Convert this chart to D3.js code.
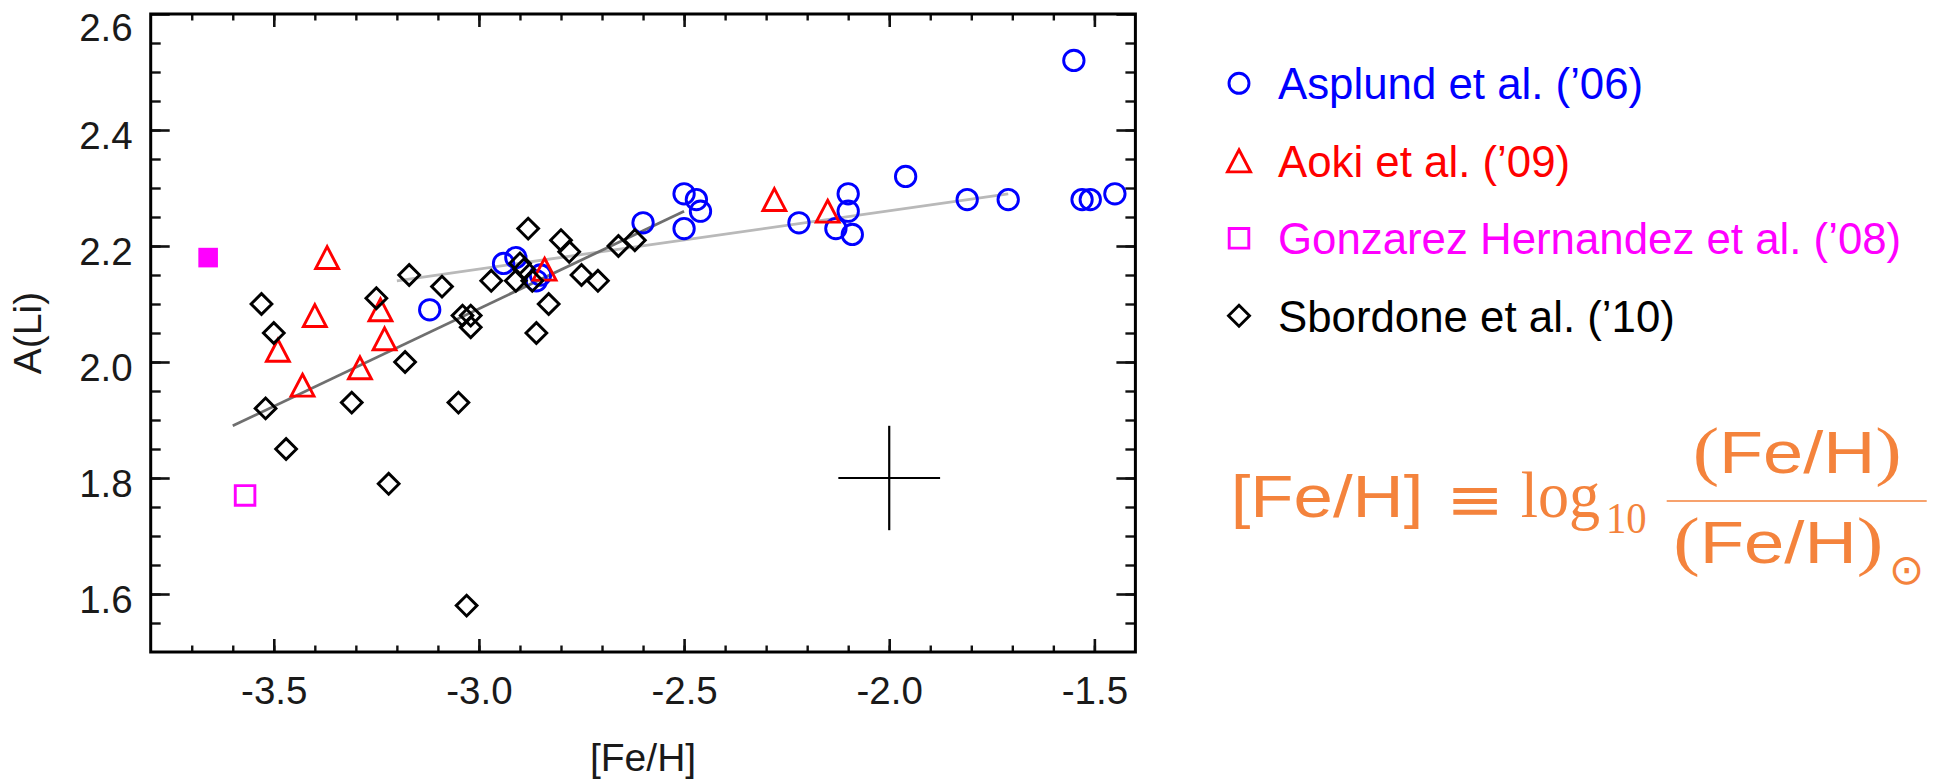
<!DOCTYPE html>
<html>
<head>
<meta charset="utf-8">
<script src="https://cdn.jsdelivr.net/npm/d3@7"></script>
<style>
  body { margin: 0; background: #ffffff; }
  svg { display: block; }
</style>
</head>
<body>
<svg id="chart" width="1944" height="779"></svg>
<script>
// ---- Lithium plateau data: A(Li) versus [Fe/H] ----

// Asplund et al. ('06)
const asplundFeH = [-3.12, -2.94, -2.91, -2.86, -2.85, -2.60, -2.50, -2.47, -2.46, -2.50, -2.22,
                    -2.10, -2.10, -2.13, -2.09, -1.96, -1.81, -1.71, -1.55, -1.53, -1.51, -1.45];
const asplundALi = [2.09, 2.17, 2.18, 2.14, 2.15, 2.24, 2.29, 2.28, 2.26, 2.23, 2.24,
                    2.29, 2.26, 2.23, 2.22, 2.32, 2.28, 2.28, 2.52, 2.28, 2.28, 2.29];

// Aoki et al. ('09)
const aokiFeH = [-3.37, -3.40, -3.49, -3.43, -3.29, -3.24, -3.23, -2.84, -2.28, -2.15];
const aokiALi = [2.18, 2.08, 2.02, 1.96, 1.99, 2.09, 2.04, 2.16, 2.28, 2.26];

// Gonzarez Hernandez et al. ('08): open and filled values
const gonzalezFeH = [-3.57];
const gonzalezALi = [1.77];
const gonzalezFilledFeH = [-3.66];
const gonzalezFilledALi = [2.18];

// Sbordone et al. ('10)
const sbordoneFeH = [-3.53, -3.50, -3.52, -3.47, -3.31, -3.25, -3.17, -3.18, -3.22, -3.09,
                     -3.05, -3.04, -3.02, -3.02, -3.03, -2.97, -2.88, -2.90, -2.91, -2.89,
                     -2.87, -2.86, -2.83, -2.80, -2.78, -2.75, -2.71, -2.66, -2.62];
const sbordoneALi = [2.10, 2.05, 1.92, 1.85, 1.93, 2.11, 2.15, 2.00, 1.79, 2.13,
                     1.93, 2.08, 2.08, 2.06, 1.58, 2.14, 2.23, 2.17, 2.14, 2.16,
                     2.14, 2.05, 2.10, 2.21, 2.19, 2.15, 2.14, 2.20, 2.21];

// Trend lines
const steepFitFeH = [-3.60, -2.50];
const steepFitALi = [1.89, 2.26];
const flatFitFeH = [-3.20, -1.71];
const flatFitALi = [2.14, 2.29];

// Typical error bar
const errCenterFeH = [-2.0];
const errCenterALi = [1.8];
const errHalfFeH = [0.124];
const errHalfALi = [0.09];

// Axes
const xMajorTicks = [-3.5, -3.0, -2.5, -2.0, -1.5];
const xTickLabels = ["-3.5", "-3.0", "-2.5", "-2.0", "-1.5"];
const yMajorTicks = [1.6, 1.8, 2.0, 2.2, 2.4, 2.6];
const yTickLabels = ["1.6", "1.8", "2.0", "2.2", "2.4", "2.6"];

// Legend
const legendLabels = ["Asplund et al. (\u201906)", "Aoki et al. (\u201909)",
                      "Gonzarez Hernandez et al. (\u201908)", "Sbordone et al. (\u201910)"];
const legendColors = ["#0000ff", "#ff0000", "#ff00ff", "#000000"];
const legendShapes = ["circle", "triangle", "square", "diamond"];

// ---- Drawing ----
const svg = d3.select("#chart");
const plotLeft = 150.7, plotRight = 1135.4, plotTop = 14, plotBottom = 652;

const x = d3.scaleLinear().domain([-3.8, -1.4]).range([plotLeft, plotRight]);
const y = d3.scaleLinear().domain([1.5, 2.6]).range([plotBottom, plotTop]);

const axisFont = "'Liberation Sans', Arial, Helvetica, sans-serif";
const tickColor = "#111";

const xMinor = d3.range(-3.7, -1.41, 0.1).map(v => +v.toFixed(2));
const yMinor = d3.range(1.55, 2.6, 0.05).map(v => +v.toFixed(2));

function styleAxis(g, w) {
  g.select(".domain").remove();
  g.selectAll(".tick line").attr("stroke", tickColor).attr("stroke-width", w);
}

// bottom axis: minor and major ticks, labels
svg.append("g").attr("transform", `translate(0,${plotBottom})`)
  .call(d3.axisBottom(x).tickValues(xMinor).tickSize(-6.5).tickFormat(""))
  .call(g => styleAxis(g, 2.4));
const xAxisMajor = svg.append("g").attr("transform", `translate(0,${plotBottom})`)
  .call(d3.axisBottom(x).tickValues(xMajorTicks).tickSize(-13).tickPadding(24.5)
        .tickFormat((d, i) => xTickLabels[i]))
  .call(g => styleAxis(g, 2.6));
xAxisMajor.selectAll("text").attr("font-family", axisFont).attr("font-size", 38.5)
  .attr("fill", "#1a1a1a");

// top axis (ticks only)
svg.append("g").attr("transform", `translate(0,${plotTop})`)
  .call(d3.axisTop(x).tickValues(xMinor).tickSize(-6.5).tickFormat(""))
  .call(g => styleAxis(g, 2.4));
svg.append("g").attr("transform", `translate(0,${plotTop})`)
  .call(d3.axisTop(x).tickValues(xMajorTicks).tickSize(-13).tickFormat(""))
  .call(g => styleAxis(g, 2.6));

// left axis
svg.append("g").attr("transform", `translate(${plotLeft},0)`)
  .call(d3.axisLeft(y).tickValues(yMinor).tickSize(-10).tickFormat(""))
  .call(g => styleAxis(g, 2.4));
const yAxisMajor = svg.append("g").attr("transform", `translate(${plotLeft},0)`)
  .call(d3.axisLeft(y).tickValues(yMajorTicks).tickSize(-19).tickPadding(18)
        .tickFormat((d, i) => yTickLabels[i]))
  .call(g => styleAxis(g, 2.6));
yAxisMajor.selectAll("text").attr("font-family", axisFont).attr("font-size", 38.5)
  .attr("fill", "#1a1a1a")
  .attr("dy", d => d === 2.6 ? "0.69em" : "0.47em");

// right axis (ticks only)
svg.append("g").attr("transform", `translate(${plotRight},0)`)
  .call(d3.axisRight(y).tickValues(yMinor).tickSize(-10).tickFormat(""))
  .call(g => styleAxis(g, 2.4));
svg.append("g").attr("transform", `translate(${plotRight},0)`)
  .call(d3.axisRight(y).tickValues(yMajorTicks).tickSize(-19).tickFormat(""))
  .call(g => styleAxis(g, 2.6));

// frame
svg.append("rect")
  .attr("x", plotLeft).attr("y", plotTop)
  .attr("width", plotRight - plotLeft).attr("height", plotBottom - plotTop)
  .attr("fill", "none").attr("stroke", "#000").attr("stroke-width", 3);

// axis titles
svg.append("text")
  .attr("x", (plotLeft + plotRight) / 2).attr("y", 771)
  .attr("text-anchor", "middle")
  .attr("font-family", axisFont).attr("font-size", 39).attr("fill", "#1a1a1a")
  .text("[Fe/H]");
svg.append("text")
  .attr("transform", `translate(41,${(plotTop + plotBottom) / 2}) rotate(-90)`)
  .attr("text-anchor", "middle")
  .attr("font-family", axisFont).attr("font-size", 39).attr("fill", "#1a1a1a")
  .text("A(Li)");

// trend lines
const line = d3.line().x(d => x(d[0])).y(d => y(d[1]));
svg.append("path")
  .datum(flatFitFeH.map((v, i) => [v, flatFitALi[i]]))
  .attr("d", line).attr("fill", "none")
  .attr("stroke", "#b9b9b9").attr("stroke-width", 2.8);
svg.append("path")
  .datum(steepFitFeH.map((v, i) => [v, steepFitALi[i]]))
  .attr("d", line).attr("fill", "none")
  .attr("stroke", "#6f6f6f").attr("stroke-width", 2.8);

// marker shapes
const markerPath = {
  triangle: s => `M0,${-s * 1.05}L${s * 1.1},${s * 1.05}L${-s * 1.1},${s * 1.05}Z`,
  square: s => `M${-s},${-s}H${s}V${s}H${-s}Z`,
  diamond: s => `M0,${-s}L${s},0L0,${s}L${-s},0Z`
};

function drawMarkers(feh, ali, shape, color, filled) {
  const pts = feh.map((v, i) => [v, ali[i]]);
  const g = svg.append("g");
  if (shape === "circle") {
    g.selectAll("circle").data(pts).join("circle")
      .attr("cx", d => x(d[0])).attr("cy", d => y(d[1])).attr("r", 10.2)
      .attr("fill", filled ? color : "none")
      .attr("stroke", color).attr("stroke-width", 2.9);
  } else {
    g.selectAll("path").data(pts).join("path")
      .attr("transform", d => `translate(${x(d[0])},${y(d[1])})`)
      .attr("d", markerPath[shape](shape === "square" ? 9.8 : 10.4))
      .attr("fill", filled ? color : "none")
      .attr("stroke", filled ? "none" : color)
      .attr("stroke-width", 2.9)
      .attr("stroke-linejoin", "miter");
  }
}

drawMarkers(asplundFeH, asplundALi, "circle", legendColors[0], false);
drawMarkers(aokiFeH, aokiALi, "triangle", legendColors[1], false);
drawMarkers(sbordoneFeH, sbordoneALi, "diamond", legendColors[3], false);
drawMarkers(gonzalezFeH, gonzalezALi, "square", legendColors[2], false);
drawMarkers(gonzalezFilledFeH, gonzalezFilledALi, "square", legendColors[2], true);

// error cross
const errG = svg.append("g").attr("stroke", "#000").attr("stroke-width", 2.2);
errCenterFeH.forEach((v, i) => {
  errG.append("line")
    .attr("x1", x(v - errHalfFeH[i])).attr("x2", x(v + errHalfFeH[i]))
    .attr("y1", y(errCenterALi[i])).attr("y2", y(errCenterALi[i]));
  errG.append("line")
    .attr("x1", x(v)).attr("x2", x(v))
    .attr("y1", y(errCenterALi[i] - errHalfALi[i])).attr("y2", y(errCenterALi[i] + errHalfALi[i]));
});

// legend
const legend = svg.append("g");
const legendX = 1239, legendTextX = 1278, legendY0 = 99.3, legendStep = 77.5;
legendLabels.forEach((label, i) => {
  const by = legendY0 + i * legendStep;
  const my = by - 16;
  const color = legendColors[i];
  if (legendShapes[i] === "circle") {
    legend.append("circle").attr("cx", legendX).attr("cy", my).attr("r", 10)
      .attr("fill", "none").attr("stroke", color).attr("stroke-width", 2.9);
  } else {
    legend.append("path")
      .attr("transform", `translate(${legendX},${my})`)
      .attr("d", markerPath[legendShapes[i]](legendShapes[i] === "square" ? 9.8 : 10.5))
      .attr("fill", "none").attr("stroke", color).attr("stroke-width", 2.9);
  }
  legend.append("text")
    .attr("x", legendTextX).attr("y", by)
    .attr("font-family", axisFont).attr("font-size", 43.8)
    .attr("fill", color)
    .text(label);
});

// definition of [Fe/H]
const orange = "#f4833c";
const serif = "'Liberation Serif', 'Times New Roman', serif";
const sans = "'Liberation Sans', Arial, sans-serif";
const eq = svg.append("g").attr("fill", orange);

eq.append("text").attr("x", 1230.7).attr("y", 517.3)
  .attr("font-family", sans).attr("font-size", 60)
  .attr("textLength", 192.6).attr("lengthAdjust", "spacingAndGlyphs")
  .text("[Fe/H]");

// equivalence sign, scaled so its ink fills the box x 1453..1497, y 487..515
{
  const eqFont = "60px 'DejaVu Sans'";
  const ctx = document.createElement("canvas").getContext("2d");
  ctx.font = eqFont;
  const m = ctx.measureText("\u2261");
  const inkL = -m.actualBoundingBoxLeft, inkR = m.actualBoundingBoxRight;
  const inkT = -m.actualBoundingBoxAscent, inkB = m.actualBoundingBoxDescent;
  const sx = 44 / (inkR - inkL), sy = 28 / (inkB - inkT);
  eq.append("text").attr("x", 0).attr("y", 0)
    .attr("font-family", "'DejaVu Sans', sans-serif").attr("font-size", 60)
    .attr("transform", `translate(${1453 - inkL * sx},${487 - inkT * sy}) scale(${sx},${sy})`)
    .text("\u2261");
}

eq.append("text").attr("x", 1520.7).attr("y", 517.3)
  .attr("font-family", serif).attr("font-size", 65)
  .attr("textLength", 79.3).attr("lengthAdjust", "spacingAndGlyphs")
  .text("log");
eq.append("text").attr("x", 1606).attr("y", 533.3)
  .attr("font-family", serif).attr("font-size", 44)
  .attr("textLength", 40.7).attr("lengthAdjust", "spacingAndGlyphs")
  .text("10");

function fracPart(xPos, baseline, len) {
  const t = eq.append("text").attr("x", xPos).attr("y", baseline)
    .attr("textLength", len).attr("lengthAdjust", "spacingAndGlyphs");
  t.append("tspan").attr("font-family", serif).attr("font-size", 66).text("(");
  t.append("tspan").attr("font-family", sans).attr("font-size", 60).text("Fe/H");
  t.append("tspan").attr("font-family", serif).attr("font-size", 66).text(")");
  return t;
}
fracPart(1692.7, 472.7, 209);
fracPart(1673.3, 562.7, 210);
eq.append("text").attr("x", 1906.7).attr("y", 584).attr("text-anchor", "middle")
  .attr("font-family", "'DejaVu Sans', sans-serif").attr("font-size", 42)
  .text("\u2299");
eq.append("line").attr("x1", 1666.7).attr("x2", 1926.7).attr("y1", 501).attr("y2", 501)
  .attr("stroke", orange).attr("stroke-width", 1.6);
</script>
</body>
</html>
